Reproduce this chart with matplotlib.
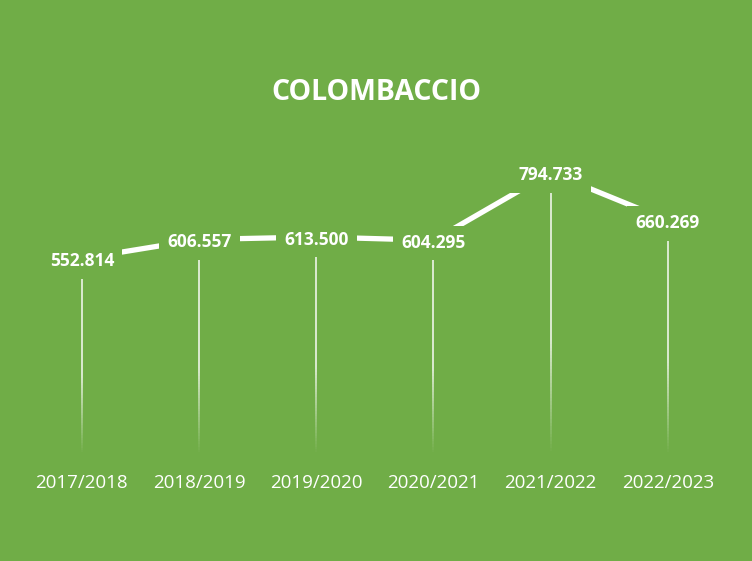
import numpy as np
import matplotlib.pyplot as plt
from matplotlib.collections import LineCollection

seasons = ['2017/2018', '2018/2019', '2019/2020', '2020/2021', '2021/2022', '2022/2023']
values = [552.814, 606.557, 613.500, 604.295, 794.733, 660.269]
labels = ['552.814', '606.557', '613.500', '604.295', '794.733', '660.269']

green = '#70AD47'
plt.rcParams['font.family'] = ['Open Sans', 'DejaVu Sans']

fig = plt.figure(figsize=(7.52, 5.61), dpi=100, facecolor=green)
ax = fig.add_axes([0.031, 0.189, 0.935, 0.57])
ax.set_facecolor(green)
x = np.arange(len(values))

# drop lines fading out towards the bottom
for xi, v in zip(x, values):
    t = np.linspace(0, 1, 80)
    segs = [[(xi, v * t[i]), (xi, v * t[i + 1])] for i in range(len(t) - 1)]
    alphas = np.clip(t[:-1] * 2.5, 0, 1) * 0.75
    cols = [(1, 1, 1, a) for a in alphas]
    ax.add_collection(LineCollection(segs, colors=cols, linewidths=1.4, zorder=1))

ax.plot(x, values, color='white', linewidth=3.8, solid_capstyle='butt', zorder=2)

for xi, v, lab in zip(x, values, labels):
    ax.text(xi, v - 8, lab, ha='center', va='center', color='white', fontsize=12.5,
            fontweight='bold', zorder=3,
            bbox=dict(facecolor=green, edgecolor='none', pad=6))

ax.set_xlim(-0.5, len(values) - 0.5)
ax.set_ylim(0, 900)
ax.set_xticks(x)
ax.set_xticklabels(seasons, color='white', fontsize=13.5)
ax.tick_params(axis='x', length=0, pad=14)
ax.set_yticks([])
for s in ax.spines.values():
    s.set_visible(False)

fig.text(0.5, 0.835, 'COLOMBACCIO', ha='center', va='center', color='white',
         fontsize=20.5, fontweight='bold')

fig.savefig('out.png', dpi=100, facecolor=green)
